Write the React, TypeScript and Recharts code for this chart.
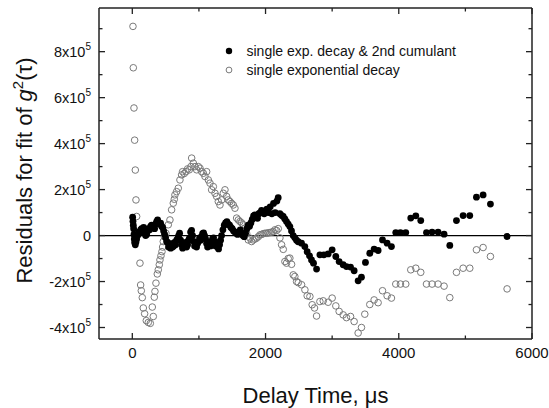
import React from 'react';
import { ScatterChart, Scatter, XAxis, YAxis, ReferenceLine, Legend } from 'recharts';

// Delay time (µs) and residual (units of 10^3) — single exp. decay & 2nd cumulant (filled)
const cumulantTime = [
  5, 10, 15, 20, 25, 30, 35, 45, 55, 65, 80, 95, 110, 125, 140, 155, 170, 185, 200, 215,
  230, 245, 260, 275, 290, 305, 320, 335, 350, 365, 380, 395, 410, 425, 440, 455, 470, 485, 500, 515,
  530, 545, 560, 575, 590, 605, 620, 635, 650, 665, 680, 695, 710, 725, 740, 755, 770, 785, 800, 815,
  830, 845, 860, 875, 890, 905, 920, 935, 950, 965, 980, 995, 1010, 1025, 1040, 1055, 1070, 1085, 1100, 1115,
  1130, 1145, 1160, 1175, 1190, 1205, 1220, 1235, 1250, 1265, 1280, 1295, 1310, 1325, 1340, 1360, 1380, 1400, 1420, 1440,
  1460, 1480, 1500, 1520, 1540, 1560, 1580, 1600, 1620, 1640, 1660, 1680, 1700, 1720, 1740, 1760, 1780, 1800, 1820, 1840,
  1860, 1880, 1900, 1920, 1940, 1960, 1980, 2000, 2020, 2045, 2070, 2095, 2120, 2145, 2170, 2190, 2215, 2240, 2265, 2290,
  2315, 2340, 2365, 2390, 2415, 2440, 2465, 2490, 2540, 2590, 2625, 2660, 2690, 2720, 2766, 2816, 2876, 2940, 3000, 3055,
  3105, 3165, 3215, 3276, 3330, 3390, 3440, 3500, 3565, 3630, 3690, 3756, 3825, 3890, 3955, 4025, 4105, 4180, 4256, 4330,
  4416, 4500, 4590, 4680, 4766, 4866, 4966, 5066, 5166, 5266, 5376, 5626,
];
const cumulantResidual = [
  80, 62, 45, 30, 5, -15, -30, -40, -28, -15, 0, 15, 10, 25, 30, 20, 35, 10, 0, 5,
  20, 30, 25, 40, 45, 35, 40, 30, 50, 60, 68, 55, 50, 54, 40, 35, 20, 5, -10, -26,
  -30, -50, -40, -55, -35, -50, -45, -30, -40, -20, -15, 0, 10, -20, -40, -55, -35, -45, -30, -50,
  -40, -20, -10, 15, 22, 0, -25, -45, -30, -50, -35, -25, -10, -20, -5, 8, 12, 0, -15, -35,
  -50, -40, -30, -45, -25, -15, -10, -30, -45, -30, -50, -58, -40, -20, 0, 25, 45, 55, 60, 50,
  45, 35, 30, 20, 15, 10, 5, 15, 25, 10, 0, -5, 10, 30, 45, 40, 55, 70, 85, 90,
  80, 75, 95, 100, 110, 105, 95, 100, 115, 100, 125, 95, 140, 100, 150, 165, 95, 88, 83, 72,
  61, 50, 39, 20, 0, -10, -20, -27, -33, -48, -70, -88, -106, -120, -146, -84, -84, -80, -62, -91,
  -113, -127, -135, -137, -153, -197, -181, -117, -77, -59, -65, -19, -33, -48, 13, 13, 13, 76, 86, 65,
  13, 15, 15, 6, -43, 65, 87, 87, 167, 177, 137, -4,
];

// Delay time (µs) and residual (units of 10^3) — single exponential decay (open)
const singleTime = [
  10, 15, 25, 35, 45, 55, 65, 115, 125, 135, 150, 165, 185, 210, 240, 270, 300, 315, 330, 340,
  355, 375, 390, 405, 415, 430, 445, 455, 465, 480, 505, 540, 565, 590, 615, 630, 640, 665, 690, 715,
  740, 755, 780, 805, 830, 855, 880, 891, 916, 941, 966, 991, 1016, 1041, 1066, 1091, 1116, 1141, 1166, 1191,
  1216, 1241, 1266, 1291, 1316, 1341, 1366, 1391, 1416, 1441, 1466, 1491, 1516, 1541, 1566, 1591, 1616, 1641, 1666, 1691,
  1716, 1741, 1766, 1791, 1816, 1841, 1866, 1891, 1916, 1941, 1966, 1991, 2016, 2041, 2066, 2091, 2116, 2141, 2166, 2191,
  2216, 2241, 2266, 2291, 2315, 2340, 2365, 2391, 2416, 2440, 2466, 2491, 2541, 2591, 2625, 2666, 2700, 2735, 2766, 2816,
  2866, 2940, 3000, 3055, 3105, 3165, 3215, 3276, 3330, 3390, 3440, 3490, 3565, 3630, 3690, 3756, 3825, 3890, 3955, 4025,
  4105, 4180, 4256, 4330, 4416, 4500, 4590, 4680, 4766, 4866, 4966, 5066, 5166, 5266, 5376, 5626,
];
const singleResidual = [
  910, 730, 555, 415, 285, 155, 83, -120, -215, -240, -270, -315, -340, -370, -378, -382, -311, -352, -268, -243,
  -207, -167, -149, -127, -106, -88, -70, -50, -26, -4, 10, 47, 68, 112, 141, 158, 177, 191, 206, 242,
  264, 278, 270, 278, 290, 286, 300, 337, 315, 300, 286, 300, 293, 278, 271, 257, 278, 242, 228, 199,
  213, 184, 170, 148, 133, 155, 184, 199, 170, 155, 148, 140, 133, 119, 76, 68, 61, 55, 47, 32,
  10, -19, -11, -26, -19, -15, -11, -5, 3, 5, 8, 10, 10, 12, 13, 15, 17, 25, 22, 30,
  -10, -40, -60, -113, -120, -100, -98, -125, -171, -178, -200, -205, -214, -236, -262, -265, -301, -315, -350, -287,
  -284, -290, -272, -306, -330, -345, -357, -352, -374, -424, -400, -342, -300, -280, -292, -240, -262, -272, -211, -211,
  -211, -149, -142, -160, -211, -211, -211, -220, -270, -160, -142, -142, -62, -52, -91, -232,
];

const xTicks = [0, 1000, 2000, 3000, 4000, 5000, 6000];
const xLabelTicks = [0, 2000, 4000, 6000];
const yTicks = [-400000, -300000, -200000, -100000, 0, 100000, 200000, 300000, 400000, 500000, 600000, 700000, 800000, 900000];
const yLabelTicks = [-400000, -200000, 0, 200000, 400000, 600000, 800000];
const legendLabels = ['single exp. decay & 2nd cumulant', 'single exponential decay'];

const cumulantData = cumulantTime.map((t, i) => ({ x: t, y: cumulantResidual[i] * 1000 }));
const singleData = singleTime.map((t, i) => ({ x: t, y: singleResidual[i] * 1000 }));

const FONT = "Arial, 'Liberation Sans', Helvetica, sans-serif";
const AXIS = '#222';
const X_DOMAIN: [number, number] = [-500, 6000];
const Y_DOMAIN: [number, number] = [-450000, 990000];

const BottomTick = (p: any) => {
  const v = p.payload.value;
  const major = xLabelTicks.includes(v);
  return (
    <g>
      <line x1={p.x} y1={p.y} x2={p.x} y2={p.y - (major ? 6 : 3.5)} stroke={AXIS} strokeWidth={1.3} />
      {major && (
        <text x={p.x} y={p.y + 19} textAnchor="middle" fontSize={15} fontFamily={FONT} fill="#111">
          {v}
        </text>
      )}
    </g>
  );
};

const TopTick = (p: any) => {
  const v = p.payload.value;
  const major = xLabelTicks.includes(v);
  return <line x1={p.x} y1={p.y} x2={p.x} y2={p.y + (major ? 6 : 3.5)} stroke={AXIS} strokeWidth={1.3} />;
};

const LeftTick = (p: any) => {
  const v = p.payload.value;
  const major = yLabelTicks.includes(v);
  const m = v / 100000;
  return (
    <g>
      <line x1={p.x} y1={p.y} x2={p.x + (major ? 6 : 3.5)} y2={p.y} stroke={AXIS} strokeWidth={1.3} />
      {major && (
        <text x={p.x - 8} y={p.y + 5} textAnchor="end" fontSize={14.5} fontFamily={FONT} fill="#111">
          {v === 0 ? (
            '0'
          ) : (
            <>
              {`${m}x10`}
              <tspan dy={-7} fontSize={10}>5</tspan>
            </>
          )}
        </text>
      )}
    </g>
  );
};

const RightTick = (p: any) => {
  const v = p.payload.value;
  const major = yLabelTicks.includes(v);
  return <line x1={p.x} y1={p.y} x2={p.x - (major ? 6 : 3.5)} y2={p.y} stroke={AXIS} strokeWidth={1.3} />;
};

const FilledDot = (p: any) => <circle cx={p.cx} cy={p.cy} r={3.4} fill="#000" />;
const OpenDot = (p: any) => <circle cx={p.cx} cy={p.cy} r={3.3} fill="none" stroke="#7a7a7a" strokeWidth={1} />;
const NoDot = () => <g />;

const YTitle = (p: any) => {
  const vb = p.viewBox;
  const cx = vb.x + 32;
  const cy = vb.y + vb.height / 2 - 3;
  return (
    <text transform={`translate(${cx},${cy}) rotate(-90)`} textAnchor="middle" fontSize={22} fontFamily={FONT} fill="#111">
      Residuals for fit of <tspan fontStyle="italic">g</tspan>
      <tspan dy={-9} fontSize={15}>2</tspan>
      <tspan dy={9}>(τ)</tspan>
    </text>
  );
};

const XTitle = (p: any) => {
  const vb = p.viewBox;
  return (
    <text x={vb.x + vb.width / 2} y={vb.y + 64} textAnchor="middle" fontSize={22} fontFamily={FONT} fill="#111">
      Delay Time, μs
    </text>
  );
};

const LegendBox = () => (
  <div style={{ fontFamily: FONT, fontSize: 14, color: '#111', lineHeight: '19px' }}>
    {legendLabels.map((label, i) => (
      <div key={label} style={{ display: 'flex', alignItems: 'center', height: 19 }}>
        <svg width={14} height={14} style={{ display: 'block' }}>
          {i === 0 ? (
            <circle cx={7} cy={7} r={3.2} fill="#000" />
          ) : (
            <circle cx={7} cy={7} r={2.9} fill="none" stroke="#7a7a7a" strokeWidth={1} />
          )}
        </svg>
        <span style={{ marginLeft: 10.5, whiteSpace: 'nowrap' }}>{label}</span>
      </div>
    ))}
  </div>
);

export default function App() {
  return (
    <div style={{ position: 'absolute', left: 0, top: 0, background: '#fff' }}>
      <ScatterChart width={549} height={408} margin={{ top: 7, right: 16, bottom: 0, left: 0 }}>
        <XAxis
          dataKey="x"
          type="number"
          domain={X_DOMAIN}
          allowDataOverflow
          ticks={xTicks}
          interval={0}
          height={69}
          tickSize={0}
          tickMargin={0}
          tick={BottomTick}
          axisLine={{ stroke: AXIS, strokeWidth: 1.5 }}
          label={{ content: XTitle }}
        />
        <XAxis
          xAxisId="top"
          dataKey="x"
          orientation="top"
          type="number"
          domain={X_DOMAIN}
          allowDataOverflow
          ticks={xTicks}
          interval={0}
          height={1}
          tickSize={0}
          tickMargin={0}
          tick={TopTick}
          axisLine={{ stroke: AXIS, strokeWidth: 1.5 }}
        />
        <YAxis
          dataKey="y"
          type="number"
          domain={Y_DOMAIN}
          allowDataOverflow
          ticks={yTicks}
          interval={0}
          width={99}
          tickSize={0}
          tickMargin={0}
          tick={LeftTick}
          axisLine={{ stroke: AXIS, strokeWidth: 1.5 }}
          label={{ content: YTitle }}
        />
        <YAxis
          yAxisId="right"
          dataKey="y"
          orientation="right"
          type="number"
          domain={Y_DOMAIN}
          allowDataOverflow
          ticks={yTicks}
          interval={0}
          width={1}
          tickSize={0}
          tickMargin={0}
          tick={RightTick}
          axisLine={{ stroke: AXIS, strokeWidth: 1.5 }}
        />
        <ReferenceLine y={0} stroke="#000" strokeWidth={1.3} />
        <Scatter data={singleData} shape={OpenDot} isAnimationActive={false} />
        <Scatter data={cumulantData} shape={FilledDot} isAnimationActive={false} />
        <Scatter
          data={cumulantData}
          xAxisId="top"
          yAxisId="right"
          shape={NoDot}
          legendType="none"
          isAnimationActive={false}
        />
        <Legend
          layout="horizontal"
          verticalAlign="middle"
          align="center"
          content={LegendBox}
          wrapperStyle={{ left: 222, top: 41.5, width: 300 }}
        />
      </ScatterChart>
    </div>
  );
}
